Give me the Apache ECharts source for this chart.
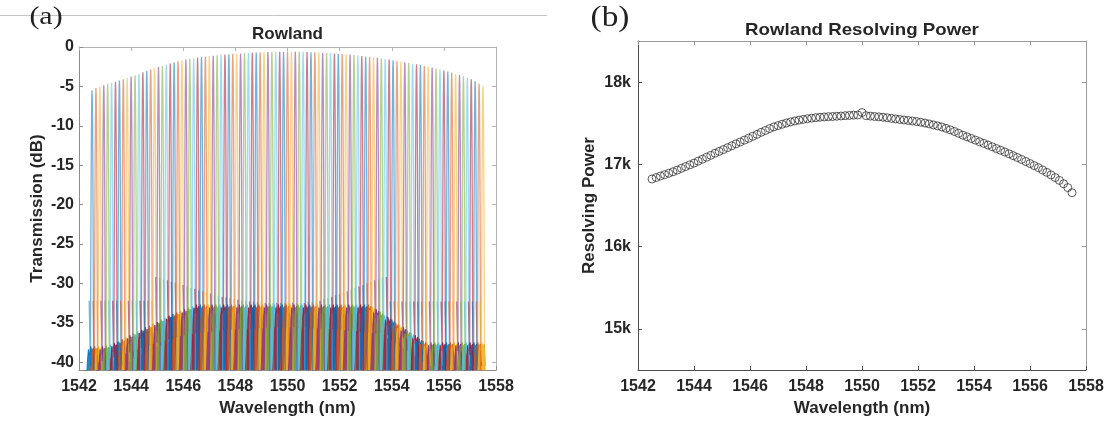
<!DOCTYPE html>
<html>
<head>
<meta charset="utf-8">
<script src="https://cdn.jsdelivr.net/npm/echarts@6/dist/echarts.min.js"></script>
<style>
  html, body { margin: 0; padding: 0; background: #ffffff; }
  #chart { width: 1115px; height: 425px; }
</style>
</head>
<body>
<div id="chart"></div>
<script>
// Channel centre wavelengths (nm) of the Rowland demultiplexer
const channelCenters = [
  1542.50, 1542.65, 1542.80, 1542.95, 1543.10, 1543.25, 1543.40, 1543.55, 1543.70, 1543.85,
  1544.00, 1544.15, 1544.30, 1544.45, 1544.60, 1544.75, 1544.90, 1545.05, 1545.20, 1545.35,
  1545.50, 1545.65, 1545.80, 1545.95, 1546.10, 1546.25, 1546.40, 1546.55, 1546.70, 1546.85,
  1547.00, 1547.15, 1547.30, 1547.45, 1547.60, 1547.75, 1547.90, 1548.05, 1548.20, 1548.35,
  1548.50, 1548.65, 1548.80, 1548.95, 1549.10, 1549.25, 1549.40, 1549.55, 1549.70, 1549.85,
  1550.00, 1550.15, 1550.30, 1550.45, 1550.60, 1550.75, 1550.90, 1551.05, 1551.20, 1551.35,
  1551.50, 1551.65, 1551.80, 1551.95, 1552.10, 1552.25, 1552.40, 1552.55, 1552.70, 1552.85,
  1553.00, 1553.15, 1553.30, 1553.45, 1553.60, 1553.75, 1553.90, 1554.05, 1554.20, 1554.35,
  1554.50, 1554.65, 1554.80, 1554.95, 1555.10, 1555.25, 1555.40, 1555.55, 1555.70, 1555.85,
  1556.00, 1556.15, 1556.30, 1556.45, 1556.60, 1556.75, 1556.90, 1557.05, 1557.20, 1557.35,
  1557.50
];

// Peak transmission of each channel (dB)
const channelPeaks = [
  -5.5, -5.2, -5.0, -4.85, -4.7, -4.55, -4.4, -4.25, -4.1, -3.95,
  -3.75, -3.6, -3.4, -3.2, -3.02, -2.85, -2.7, -2.55, -2.4, -2.25,
  -2.1, -1.95, -1.8, -1.68, -1.58, -1.5, -1.42, -1.35, -1.28, -1.22,
  -1.16, -1.1, -1.05, -1.0, -0.96, -0.92, -0.88, -0.85, -0.82, -0.78,
  -0.75, -0.72, -0.7, -0.68, -0.66, -0.64, -0.62, -0.61, -0.6, -0.6,
  -0.58, -0.6, -0.6, -0.61, -0.62, -0.64, -0.66, -0.68, -0.7, -0.72,
  -0.75, -0.78, -0.82, -0.86, -0.9, -0.93, -0.97, -1.02, -1.08, -1.14,
  -1.2, -1.25, -1.32, -1.38, -1.45, -1.52, -1.6, -1.68, -1.77, -1.86,
  -1.95, -2.03, -2.12, -2.2, -2.3, -2.4, -2.5, -2.6, -2.72, -2.85,
  -2.98, -3.1, -3.25, -3.4, -3.55, -3.7, -3.9, -4.1, -4.35, -4.65,
  -5.0
];

// Shoulder level on the passband edge of each channel (dB)
const channelShoulders = [
  -32.2, -32.2, -32.2, -32.2, -32.2, -32.2, -32.2, -32.2, -32.2, -32.2,
  -32.2, -32.2, -32.2, -32.2, -32.2, -32.2, -32.2, -29.2, -29.3, -29.5,
  -29.6, -29.8, -29.9, -30.1, -30.2, -30.4, -30.6, -30.7, -30.9, -31.0,
  -31.1, -31.3, -31.4, -31.6, -31.7, -31.8, -31.9, -32.0, -32.1, -32.2,
  -32.2, -32.3, -32.3, -32.4, -32.4, -32.5, -32.5, -32.5, -32.5, -32.5,
  -32.5, -32.5, -32.5, -32.5, -32.5, -32.5, -32.4, -32.4, -32.3, -32.2,
  -32.0, -31.9, -31.7, -31.5, -31.4, -31.2, -31.0, -30.8, -30.6, -30.4,
  -30.2, -30.0, -29.8, -29.6, -29.5, -29.3, -29.2, -32.3, -32.3, -32.3,
  -32.3, -32.3, -32.3, -32.3, -32.3, -32.3, -32.3, -32.3, -32.3, -32.3,
  -32.3, -32.3, -32.3, -32.3, -32.3, -32.3, -32.3, -32.3, -32.3, -32.3,
  -32.3
];

// Crosstalk floor level under each channel (dB)
const channelFloors = [
  -38.0, -38.0, -38.0, -38.0, -37.9, -37.8, -37.6, -37.4, -37.1, -36.9,
  -36.6, -36.4, -36.1, -35.9, -35.6, -35.4, -35.1, -34.9, -34.6, -34.4,
  -34.1, -33.9, -33.7, -33.5, -33.3, -33.1, -32.9, -32.7, -32.7, -32.7,
  -32.7, -32.7, -32.7, -32.7, -32.7, -32.7, -32.7, -32.7, -32.7, -32.7,
  -32.7, -32.7, -32.7, -32.7, -32.7, -32.7, -32.7, -32.7, -32.7, -32.7,
  -32.7, -32.7, -32.7, -32.7, -32.7, -32.7, -32.7, -32.7, -32.7, -32.7,
  -32.7, -32.7, -32.7, -32.7, -32.7, -32.7, -32.7, -32.7, -32.7, -32.7,
  -32.7, -32.7, -33.0, -33.3, -33.6, -34.0, -34.3, -34.6, -35.0, -35.3,
  -35.6, -36.0, -36.3, -36.6, -37.0, -37.3, -37.5, -37.5, -37.5, -37.5,
  -37.5, -37.5, -37.5, -37.5, -37.5, -37.5, -37.5, -37.5, -37.5, -37.5,
  -37.5
];

// Passband shape: offset from centre (nm) and level below the peak (dB)
const lobeOffsets = [-0.06, -0.05, -0.04, -0.03, -0.02, -0.01, 0, 0.01, 0.02, 0.03, 0.04, 0.05, 0.06, 0.07];
const lobeShape   = [-35.0, -24.3, -15.6, -8.8, -3.9, -1.0, 0, -1.0, -3.9, -8.8, -15.6, -24.3, -35.0, -47.6];

// Shoulder step: offsets from centre (nm) where the edge flattens out
const shoulderOffsets = [-0.11, -0.065];

// Sidelobe skirt: offset from centre (nm) and level relative to the floor (dB)
const skirtOffsets = [-0.27, -0.22, -0.18, -0.14, -0.10, -0.05, 0.00, 0.05, 0.10];
const skirtShape   = [-9, -5, -2, -0.4, -1.1, 0, -0.7, -0.2, -3];

// Resolving power of each channel
const resolvingPower = [
  16822, 16840, 16858, 16875, 16892, 16910, 16930, 16952, 16973, 16994,
  17015, 17040, 17063, 17087, 17110, 17135, 17158, 17180, 17203, 17226,
  17250, 17272, 17295, 17318, 17342, 17365, 17390, 17412, 17435, 17455,
  17472, 17488, 17503, 17516, 17528, 17538, 17547, 17555, 17562, 17568,
  17573, 17577, 17580, 17582, 17585, 17588, 17592, 17595, 17598, 17600,
  17630, 17592, 17587, 17582, 17578, 17573, 17567, 17560, 17553, 17546,
  17540, 17534, 17528, 17521, 17512, 17502, 17492, 17480, 17468, 17455,
  17438, 17420, 17400, 17378, 17355, 17335, 17315, 17295, 17275, 17255,
  17235, 17214, 17193, 17172, 17150, 17128, 17106, 17083, 17060, 17035,
  17010, 16985, 16960, 16932, 16903, 16872, 16840, 16805, 16765, 16718,
  16655
];

// Tick values
const transmissionTicks = [-40, -35, -30, -25, -20, -15, -10, -5, 0];
const powerTicks = [15000, 16000, 17000, 18000];

const palette = ['#0072BD', '#D95319', '#EDB120', '#7E2F8E', '#77AC30', '#4DBEEE', '#A2142F'];
const FONT = '"Liberation Sans", Arial, sans-serif';
const INK = '#262626';

const series = [];

// crosstalk skirts (filled down to the axis floor)
channelCenters.forEach((c, i) => {
  const color = palette[i % palette.length];
  series.push({
    type: 'line', xAxisIndex: 0, yAxisIndex: 0, silent: true,
    symbol: 'none', clip: true,
    data: skirtOffsets.map((o, j) => [c + o, channelFloors[i] + skirtShape[j]]),
    lineStyle: { width: 1, color: color, opacity: 0.85 },
    areaStyle: { color: color, opacity: 0.85, origin: 'start' }
  });
});

// channel passbands: shoulder step, then the main lobe
channelCenters.forEach((c, i) => {
  const color = palette[i % palette.length];
  const pts = shoulderOffsets.map(o => [c + o, channelShoulders[i]])
    .concat(lobeOffsets.map((o, j) => [c + o, channelPeaks[i] + lobeShape[j]]));
  series.push({
    type: 'line', xAxisIndex: 0, yAxisIndex: 0, silent: true,
    symbol: 'none', clip: true,
    data: pts,
    lineStyle: { width: 1.3, color: color, opacity: 0.55 }
  });
});

// resolving power markers
series.push({
  type: 'scatter', xAxisIndex: 1, yAxisIndex: 1, silent: true,
  symbol: 'circle', symbolSize: 8,
  data: channelCenters.map((c, i) => [c, resolvingPower[i]]),
  itemStyle: { color: 'rgba(255,255,255,0)', borderColor: '#333333', borderWidth: 1 }
});

function wavelengthAxis(grid, pos, lineColor, showText) {
  return {
    gridIndex: grid, type: 'value', position: pos,
    min: 1542, max: 1558, interval: 2,
    axisLine: { show: true, onZero: false, lineStyle: { color: lineColor, width: 1 } },
    axisTick: { show: true, inside: true, length: 4, lineStyle: { color: lineColor } },
    axisLabel: showText
      ? { show: true, color: INK, fontFamily: FONT, fontWeight: 'bold', fontSize: 16, margin: 9, formatter: v => String(v) }
      : { show: false },
    splitLine: { show: false },
    name: showText ? 'Wavelength (nm)' : '',
    nameLocation: 'middle', nameGap: 29,
    nameTextStyle: { color: INK, fontFamily: FONT, fontWeight: 'bold', fontSize: 17 }
  };
}

const option = {
  animation: false,
  backgroundColor: '#ffffff',
  grid: [
    { left: 79, top: 47, width: 417, height: 323, containLabel: false },
    { left: 638, top: 41, width: 448, height: 329, containLabel: false }
  ],
  xAxis: [
    wavelengthAxis(0, 'bottom', '#8c8c8c', true),
    wavelengthAxis(1, 'bottom', '#4d4d4d', true),
    wavelengthAxis(0, 'top', '#b4b4b4', false),
    wavelengthAxis(1, 'top', '#9a9a9a', false)
  ],
  yAxis: [
    {
      gridIndex: 0, type: 'value', position: 'left', min: -41, max: 0,
      axisLine: { show: true, onZero: false, lineStyle: { color: '#8c8c8c' } },
      axisTick: { show: true, inside: true, length: 4, customValues: transmissionTicks, lineStyle: { color: '#8c8c8c' } },
      axisLabel: { show: true, customValues: transmissionTicks, color: INK, fontFamily: FONT, fontWeight: 'bold', fontSize: 16, margin: 5, formatter: v => String(v) },
      splitLine: { show: false },
      name: 'Transmission (dB)', nameLocation: 'middle', nameGap: 33, nameRotate: 90,
      nameTextStyle: { color: INK, fontFamily: FONT, fontWeight: 'bold', fontSize: 17 }
    },
    {
      gridIndex: 1, type: 'value', position: 'left', min: 14500, max: 18500,
      axisLine: { show: true, onZero: false, lineStyle: { color: '#4d4d4d' } },
      axisTick: { show: true, inside: true, length: 4, customValues: powerTicks, lineStyle: { color: '#4d4d4d' } },
      axisLabel: {
        show: true, customValues: powerTicks, color: INK, fontFamily: FONT, fontWeight: 'bold', fontSize: 16, margin: 7,
        formatter: v => (v / 1000) + 'k'
      },
      splitLine: { show: false },
      name: 'Resolving Power', nameLocation: 'middle', nameGap: 40, nameRotate: 90,
      nameTextStyle: { color: INK, fontFamily: FONT, fontWeight: 'bold', fontSize: 17 }
    },
    {
      gridIndex: 0, type: 'value', position: 'right', min: -41, max: 0,
      axisLine: { show: true, onZero: false, lineStyle: { color: '#b4b4b4' } },
      axisTick: { show: true, inside: true, length: 4, customValues: transmissionTicks, lineStyle: { color: '#b4b4b4' } },
      axisLabel: { show: false }, splitLine: { show: false }
    },
    {
      gridIndex: 1, type: 'value', position: 'right', min: 14500, max: 18500,
      axisLine: { show: true, onZero: false, lineStyle: { color: '#9a9a9a' } },
      axisTick: { show: true, inside: true, length: 4, customValues: powerTicks, lineStyle: { color: '#9a9a9a' } },
      axisLabel: { show: false }, splitLine: { show: false }
    }
  ],
  graphic: [
    { type: 'line', z: 1, shape: { x1: 0, y1: 15.5, x2: 547, y2: 15.5 }, style: { stroke: '#c4c4c4', lineWidth: 1 } },
    { type: 'text', z: 10, x: 46, y: 17, scaleX: 1.15,
      style: { text: '(a)', font: '26px "Liberation Serif", "DejaVu Serif", serif', fill: '#222222', align: 'center', verticalAlign: 'middle', textAlign: 'center', textVerticalAlign: 'middle' } },
    { type: 'text', z: 10, x: 610, y: 18, scaleX: 1.15,
      style: { text: '(b)', font: '29px "Liberation Serif", "DejaVu Serif", serif', fill: '#222222', align: 'center', verticalAlign: 'middle', textAlign: 'center', textVerticalAlign: 'middle' } },
    { type: 'text', z: 10, x: 287.5, y: 34,
      style: { text: 'Rowland', font: 'bold 17px ' + FONT, fill: INK, align: 'center', verticalAlign: 'middle', textAlign: 'center', textVerticalAlign: 'middle' } },
    { type: 'text', z: 10, x: 862, y: 30, scaleX: 1.1,
      style: { text: 'Rowland Resolving Power', font: 'bold 17px ' + FONT, fill: INK, align: 'center', verticalAlign: 'middle', textAlign: 'center', textVerticalAlign: 'middle' } }
  ],
  series: series
};

const chart = echarts.init(document.getElementById('chart'), null, { renderer: 'canvas' });
chart.setOption(option);
</script>
</body>
</html>
